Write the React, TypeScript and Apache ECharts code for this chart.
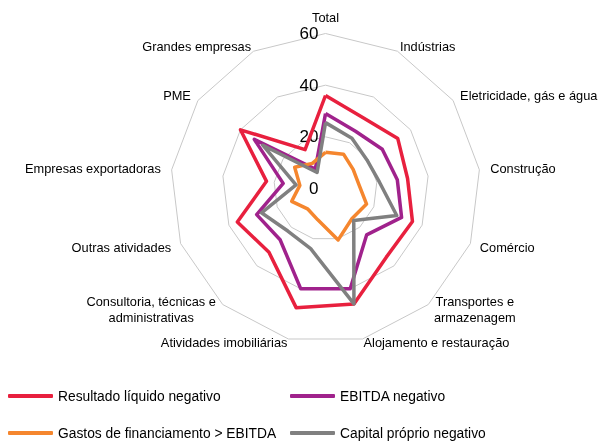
import React, { useEffect, useRef } from "react";
import * as echarts from "echarts";

const categories = [
  "Total",
  "Indústrias",
  "Eletricidade, gás e água",
  "Construção",
  "Comércio",
  "Transportes e\narmazenagem",
  "Alojamento e restauração",
  "Atividades imobiliárias",
  "Consultoria, técnicas e\nadministrativas",
  "Outras atividades",
  "Empresas exportadoras",
  "PME",
  "Grandes empresas",
];

const seriesNames = [
  "Resultado líquido negativo",
  "EBITDA negativo",
  "Gastos de financiamento > EBITDA",
  "Capital próprio negativo",
];

const resultadoLiquido = [36, 31, 34, 32, 36, 35.5, 46, 47.5, 33, 36.5, 23, 40, 17];
const ebitdaNegativo = [29, 25, 26.7, 28, 31.5, 24, 40, 40, 26.5, 28.5, 16.5, 33.5, 8.5];
const gastosFinanciamento = [14, 15, 13, 13, 17, 15.5, 20.5, 12.5, 10.5, 14, 10, 14.5, 11];
const capitalProprio = [25.5, 22, 19.5, 21, 29.5, 16.5, 46, 24, 22, 26.5, 11.5, 29.5, 7];

const axisMax = 60;
const tickInterval = 20;

const colors = ["#E8203E", "#A0228C", "#F5862E", "#808080"];

// ECharts places radar indicators counter-clockwise; reverse (keeping the first) to go clockwise.
const order = [0, ...categories.map((_, i) => i).slice(1).reverse()];
const reorder = (arr: any[]) => order.map((i) => arr[i]);

export default function App() {
  const ref = useRef<HTMLDivElement>(null);
  useEffect(() => {
    if (!ref.current) return;
    const chart = echarts.init(ref.current, undefined, { renderer: "svg" });
    const font = "'Liberation Sans', Arial, sans-serif";
    const n = categories.length;
    const indicators = reorder(categories).map((name, i) => {
      const theta = (2 * Math.PI * i) / n;
      const s2 = Math.sin(theta) ** 2;
      const c2 = Math.cos(theta) ** 2;
      return {
        name,
        min: 0,
        max: axisMax,
        nameGap: 7 + 4 * s2 - 3.5 * c2,
        axisLabel: i === 0 ? { show: true } : { show: false },
      };
    });
    const allData = [resultadoLiquido, ebitdaNegativo, gastosFinanciamento, capitalProprio];
    const legendCommon = {
      top: 389,
      orient: "vertical",
      padding: 0,
      itemGap: 23,
      itemWidth: 45,
      itemHeight: 4,
      icon: "roundRect",
      textStyle: { fontSize: 13.8, color: "#000", fontFamily: font },
    };
    chart.setOption({
      animation: false,
      textStyle: { fontFamily: font },
      legend: [
        { ...legendCommon, left: 8, data: [seriesNames[0], seriesNames[2]] },
        { ...legendCommon, left: 290, data: [seriesNames[1], seriesNames[3]] },
      ],
      radar: {
        center: [325.5, 188.5],
        radius: 155,
        shape: "polygon",
        splitNumber: axisMax / tickInterval,
        startAngle: 90,
        indicator: indicators,
        nameGap: 7,
        axisName: {
          color: "#000",
          fontSize: 12.8,
          lineHeight: 16,
          fontFamily: font,
          formatter: (name: string) => {
            if (name.indexOf("\n") < 0) return name;
            const key = name.startsWith("Consultoria") ? "wide" : "narrow";
            return name
              .split("\n")
              .map((l) => `{${key}|${l}}`)
              .join("\n");
          },
          rich: {
            wide: { width: 134, align: "center", fontSize: 12.8, lineHeight: 16, color: "#000", fontFamily: font },
            narrow: { width: 84, align: "center", fontSize: 12.8, lineHeight: 16, color: "#000", fontFamily: font },
          },
        },
        axisLine: { show: false },
        axisTick: { show: false },
        axisLabel: { show: false, color: "#000", fontSize: 17, fontFamily: font, margin: 7 },
        splitLine: { lineStyle: { color: "#C8C8C8", width: 1 } },
        splitArea: { show: false },
      },
      series: [
        {
          type: "radar",
          symbol: "none",
          data: allData.map((d, i) => ({
            name: seriesNames[i],
            value: reorder(d),
            lineStyle: { color: colors[i], width: 3.5 },
            itemStyle: { color: colors[i] },
          })),
        },
      ],
    });
    return () => chart.dispose();
  }, []);
  return (
    <div
      ref={ref}
      style={{ position: "fixed", left: 0, top: 0, width: 601, height: 441 }}
    />
  );
}
